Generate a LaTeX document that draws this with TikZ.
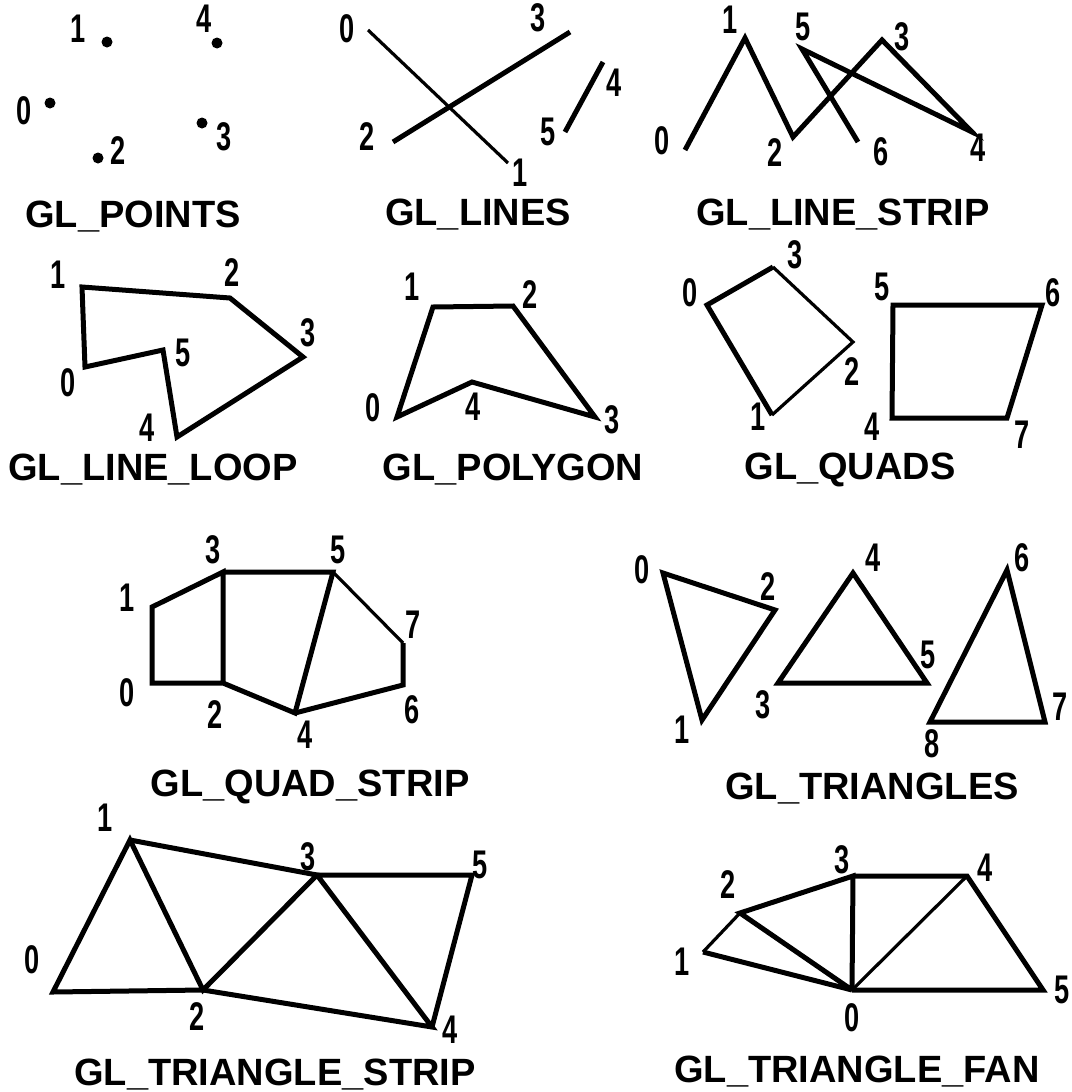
\documentclass[tikz,border=0pt]{standalone}
\usepackage{fontspec}
\setmainfont{Liberation Sans}
\newfontfamily\numfont[FakeStretch=0.68]{Liberation Sans}
\begin{document}
\begin{tikzpicture}[x=.5pt,y=-.5pt,
  num/.style={font=\numfont\fontsize{20}{20}\selectfont\bfseries,inner sep=0pt},
  title/.style={font=\fontsize{19}{19}\selectfont\bfseries,inner sep=0pt},
  edge/.style={line width=2.5pt},
  thinedge/.style={line width=1.6pt},
  dot/.style={circle,fill,inner sep=0pt,minimum size=5.5pt}]
\useasboundingbox (0,0) rectangle (1071,1092);
% GL_POINTS
\foreach \n/\x/\y/\lx/\ly in {0/50/103/24/111,1/107/42/78/29,2/98/158/118/151,3/202/123/224/137,4/217/43/204/19}{\node[dot] (pt\n) at (\x,\y){};\node[num] (ptl\n) at (\lx,\ly){\n};}
\node[title] (tpoints) at (133,217){GL\_POINTS};
% GL_LINES
\foreach \n/\x/\y/\lx/\ly in {0/368/30/347/29,1/508/163/520/173,2/393/142/367/137,3/570/32/538/18,4/603/62/614/83,5/565/132/548/132}{\coordinate (ln\n) at (\x,\y);\node[num] (lnl\n) at (\lx,\ly){\n};}
\draw[thinedge] (ln0)--(ln1);\draw[edge] (ln2)--(ln3);\draw[edge] (ln4)--(ln5);
\node[title] (tlines) at (478,215){GL\_LINES};
% GL_LINE_STRIP
\foreach \n/\x/\y/\lx/\ly in {0/685/150/662/141,1/745/38/730/20,2/793/137/775/153,3/882/40/902/37,4/972/132/978/148,5/802/49/803/27,6/858/142/881/152}{\coordinate (ls\n) at (\x,\y);\node[num] (lsl\n) at (\lx,\ly){\n};}
\draw[edge] (ls0)--(ls1)--(ls2)--(ls3)--(ls4)--(ls5)--(ls6);
\node[title] (tstrip) at (843,215){GL\_LINE\_STRIP};
% GL_LINE_LOOP
\foreach \n/\x/\y/\lx/\ly in {0/85/367/68/383,1/82/287/58/275,2/230/298/232/273,3/303/357/308/333,4/177/437/147/428,5/163/350/183/353}{\coordinate (lp\n) at (\x,\y);\node[num] (lpl\n) at (\lx,\ly){\n};}
\draw[edge] (lp0)--(lp1)--(lp2)--(lp3)--(lp4)--(lp5)--cycle;
\node[title] (tloop) at (153,470){GL\_LINE\_LOOP};
% GL_POLYGON
\foreach \n/\x/\y/\lx/\ly in {0/397/417/373/408,1/433/307/412/287,2/513/306/530/295,3/595/417/612/420,4/472/382/473/407}{\coordinate (pg\n) at (\x,\y);\node[num] (pgl\n) at (\lx,\ly){\n};}
\draw[edge] (pg0)--(pg1)--(pg2)--(pg3)--(pg4)--cycle;
\node[title] (tpoly) at (513,470){GL\_POLYGON};
% GL_QUADS
\foreach \n/\x/\y/\lx/\ly in {0/707/305/690/293,1/772/415/758/417,2/853/342/852/372,3/773/267/795/255,4/892/418/872/427,5/893/305/882/287,6/1042/305/1053/293,7/1007/418/1022/435}{\coordinate (qd\n) at (\x,\y);\node[num] (qdl\n) at (\lx,\ly){\n};}
\draw[edge] (qd3)--(qd0)--(qd1);\draw[thinedge] (qd1)--(qd2)--(qd3);
\draw[edge] (qd4)--(qd5)--(qd6)--(qd7)--cycle;
\node[title] (tquads) at (850,470){GL\_QUADS};
% GL_QUAD_STRIP
\foreach \n/\x/\y/\lx/\ly in {0/152/683/127/693,1/152/607/127/598,2/223/683/215/715,3/223/572/213/550,4/295/713/305/735,5/333/572/338/550,6/403/685/412/710,7/403/643/413/625}{\coordinate (qs\n) at (\x,\y);\node[num] (qsl\n) at (\lx,\ly){\n};}
\draw[edge] (qs2)--(qs0)--(qs1)--(qs3)--(qs2)--(qs4)--(qs5)--(qs3);
\draw[edge] (qs4)--(qs6)--(qs7);\draw[thinedge] (qs7)--(qs5);
\node[title] (tqstrip) at (310,787){GL\_QUAD\_STRIP};
% GL_TRIANGLES
\foreach \n/\x/\y/\lx/\ly in {0/663/573/642/570,1/702/720/682/730,2/775/610/768/587,3/778/683/763/705,4/853/573/873/558,5/927/683/928/655,6/1007/570/1022/558,7/1045/722/1060/707,8/930/722/932/744}{\coordinate (tr\n) at (\x,\y);\node[num] (trl\n) at (\lx,\ly){\n};}
\draw[edge] (tr0)--(tr1)--(tr2)--cycle;
\draw[edge] (tr3)--(tr4)--(tr5)--cycle;
\draw[edge] (tr6)--(tr7)--(tr8)--cycle;
\node[title] (ttris) at (872,789){GL\_TRIANGLES};
% GL_TRIANGLE_STRIP
\foreach \n/\x/\y/\lx/\ly in {0/53/992/32/960,1/130/840/105/818,2/203/990/197/1017,3/317/875/308/857,4/432/1027/450/1030,5/472/875/480/865}{\coordinate (ts\n) at (\x,\y);\node[num] (tsl\n) at (\lx,\ly){\n};}
\draw[edge] (ts2)--(ts0)--(ts1)--(ts2)--(ts3)--(ts1);
\draw[edge] (ts2)--(ts4)--(ts3)--(ts5)--(ts4);
\node[title] (ttstrip) at (275,1075){GL\_TRIANGLE\_STRIP};
% GL_TRIANGLE_FAN
\foreach \n/\x/\y/\lx/\ly in {0/852/990/852/1018,1/703/952/682/962,2/740/913/728/885,3/853/876/842/860,4/967/876/985/868,5/1043/990/1062/990}{\coordinate (tf\n) at (\x,\y);\node[num] (tfl\n) at (\lx,\ly){\n};}
\draw[edge] (tf0)--(tf1);\draw[thinedge] (tf1)--(tf2);
\draw[edge] (tf0)--(tf2)--(tf3)--(tf0);
\draw[edge] (tf3)--(tf4)--(tf5)--(tf0);\draw[thinedge] (tf0)--(tf4);
\node[title] (tfan) at (857,1072){GL\_TRIANGLE\_FAN};
\end{tikzpicture}
\end{document}
